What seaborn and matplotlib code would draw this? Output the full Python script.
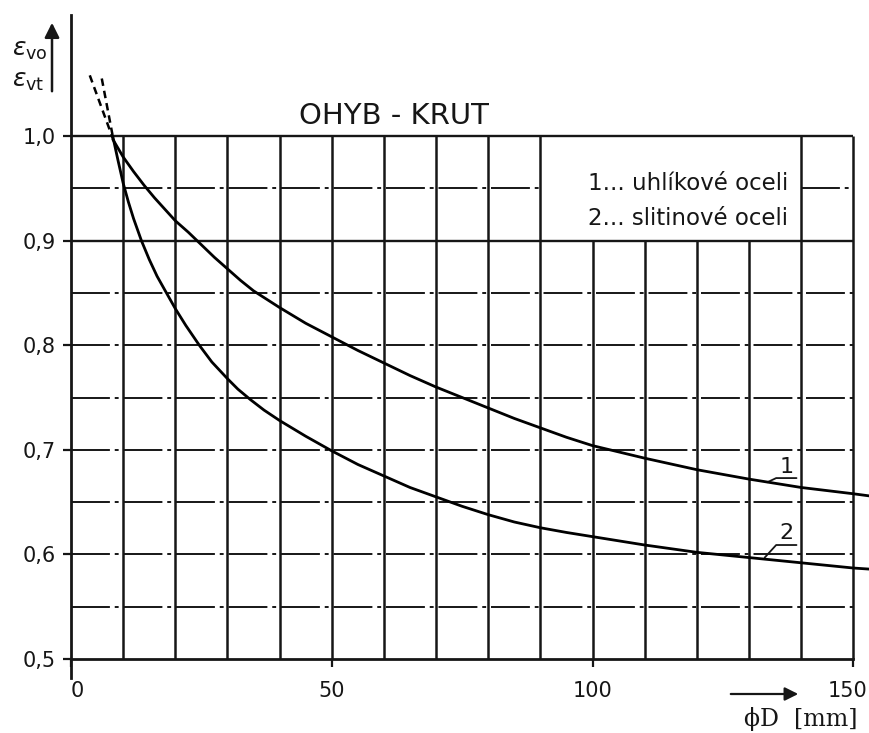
import numpy as np
import pandas as pd
import matplotlib
matplotlib.use("Agg")
import matplotlib.pyplot as plt
import matplotlib.transforms as mtransforms
import seaborn as sns

# ---------------- data ----------------
series_names = ["1", "2"]
legend_labels = ["1... uhlíkové oceli", "2... slitinové oceli"]

d_curve1 = [8, 10, 12, 14, 16, 18, 20, 22.5, 25, 27.5, 30, 32.5, 35, 37.5, 40, 45, 50, 55, 60, 65, 70,
            75, 80, 85, 90, 95, 100, 105, 110, 115, 120, 125, 130, 135, 140, 145, 150, 153]
e_curve1 = [0.997, 0.980, 0.966, 0.953, 0.941, 0.930, 0.919, 0.908, 0.896, 0.884, 0.873, 0.862, 0.852,
            0.844, 0.836, 0.821, 0.808, 0.795, 0.783, 0.771, 0.760, 0.750, 0.740, 0.730, 0.721, 0.712,
            0.704, 0.698, 0.692, 0.6865, 0.681, 0.6765, 0.672, 0.668, 0.664, 0.661, 0.658, 0.656]

d_curve2 = [8, 9, 10, 11, 12, 13.5, 15, 16.5, 18.3, 20, 22, 24.6, 27, 30, 32, 34.4, 37, 40, 45, 50, 55,
            60, 65, 70, 75, 80, 85, 90, 95, 100, 105, 110, 115, 120, 125, 130, 140, 150, 153]
e_curve2 = [1.000, 0.977, 0.955, 0.937, 0.921, 0.900, 0.882, 0.866, 0.850, 0.835, 0.819, 0.800, 0.784,
            0.768, 0.758, 0.748, 0.738, 0.728, 0.713, 0.699, 0.686, 0.675, 0.664, 0.655, 0.646, 0.638,
            0.631, 0.6255, 0.621, 0.617, 0.613, 0.609, 0.6055, 0.602, 0.5995, 0.597, 0.592, 0.587, 0.586]

# dashed extrapolation above 1.0
d_dash1 = [3.6, 8.0]
e_dash1 = [1.058, 0.998]
d_dash2 = [5.9, 8.0]
e_dash2 = [1.055, 1.000]

x_ticks = [0, 50, 100, 150]
x_tick_labels = ["0", "50", "100", "150"]
y_ticks = [0.5, 0.6, 0.7, 0.8, 0.9, 1.0]
y_tick_labels = ["0,5", "0,6", "0,7", "0,8", "0,9", "1,0"]

title_text = "OHYB - KRUT"
x_label_text = "ϕD  [mm]"

# ---------------- tables ----------------
df = pd.concat([
    pd.DataFrame({"D": d_curve1, "eps": e_curve1, "series": series_names[0]}),
    pd.DataFrame({"D": d_curve2, "eps": e_curve2, "series": series_names[1]}),
], ignore_index=True)
df_dash = pd.concat([
    pd.DataFrame({"D": d_dash1, "eps": e_dash1, "series": series_names[0]}),
    pd.DataFrame({"D": d_dash2, "eps": e_dash2, "series": series_names[1]}),
], ignore_index=True)

# ---------------- figure ----------------
sns.set_theme(style="ticks")
plt.rcParams["font.family"] = ["DejaVu Sans"]
plt.rcParams["mathtext.fontset"] = "dejavusans"

W, H = 869, 733
fig = plt.figure(figsize=(W / 100, H / 100), dpi=100)
fig.patch.set_facecolor("white")
ax = fig.add_axes([71 / W, 0.0581, 1 - 71 / W, 0.9347])
ax.set_facecolor("white")
ax.set_xlim(0, 153)
ax.set_ylim(0.47, 1.125)

ink = "#161616"

# grid (with a blank box for the legend text)
box_x0, box_x1, box_y0 = 90, 140, 0.9
grid_x = np.arange(10, 151, 10)
for gx in grid_x:
    top = box_y0 if box_x0 < gx < box_x1 else 1.0
    ax.vlines(gx, 0.5, top, color=ink, lw=1.8, zorder=1)

grid_y = np.round(np.arange(0.55, 1.001, 0.05), 2)
for gy in grid_y:
    if gy == 1.0 or gy == 0.9:
        ls = "-"
        lw = 1.7
    else:
        ls = (0, (20, 2.5, 2, 2.5))
        lw = 1.4
    if gy == 0.95:
        segs = [(0, box_x0), (box_x1, 150)]
    else:
        segs = [(0, 150)]
    for a, b in segs:
        ax.hlines(gy, a, b, color=ink, lw=lw, linestyles=[ls], zorder=1)

# curves
sns.lineplot(data=df, x="D", y="eps", hue="series", palette=["black", "black"],
             sort=False, estimator=None, legend=False, lw=2.0, ax=ax, zorder=3)
sns.lineplot(data=df_dash, x="D", y="eps", hue="series", palette=["black", "black"],
             sort=False, estimator=None, legend=False, lw=1.8, ax=ax, zorder=3)
for ln in ax.lines[-2:]:
    ln.set_linestyle((0, (3, 2)))

# spines / axes
ax.spines["top"].set_visible(False)
ax.spines["right"].set_visible(False)
ax.spines["left"].set_bounds(0.482, 1.116)
ax.spines["bottom"].set_position(("data", 0.5))
ax.spines["bottom"].set_bounds(0, 150)
for s in ("left", "bottom"):
    ax.spines[s].set_linewidth(2.0)
    ax.spines[s].set_color(ink)

ax.set_xticks(x_ticks)
ax.set_xticklabels(x_tick_labels)
ax.set_yticks(y_ticks)
ax.set_yticklabels(y_tick_labels)
ax.tick_params(axis="both", direction="out", length=6, width=1.6, color=ink,
               labelsize=15, labelcolor=ink)
ax.tick_params(axis="x", pad=10)
ax.tick_params(axis="y", pad=5)
xl = ax.get_xticklabels()
xl[0].set_horizontalalignment("left")
xl[-1].set_horizontalalignment("right")
xl[-1].set_transform(xl[-1].get_transform() +
                     mtransforms.ScaledTranslation(14 / 100, 0, fig.dpi_scale_trans))
ax.set_xlabel("")
ax.set_ylabel("")

# title and legend text
ax.text(62, 1.019, title_text, ha="center", va="center", fontsize=21, color=ink)
ax.text(137.5, 0.955, legend_labels[0], ha="right", va="center", fontsize=16.5, color=ink)
ax.text(137.5, 0.9216, legend_labels[1], ha="right", va="center", fontsize=16.5, color=ink)

# curve labels with leaders
ax.plot([133.5, 135.2, 139.1], [0.669, 0.673, 0.673], color=ink, lw=1.3)
ax.text(137.2, 0.6745, series_names[0], ha="center", va="bottom", fontsize=16, color=ink)
ax.plot([133.0, 135.2, 139.1], [0.597, 0.609, 0.609], color=ink, lw=1.3)
ax.text(137.2, 0.611, series_names[1], ha="center", va="bottom", fontsize=16, color=ink)

# y label (epsilon) with arrow
fig.text(12 / W, 1 - 50 / H, r"$\varepsilon_{\mathrm{vo}}$", ha="left", va="center", fontsize=18, color=ink)
fig.text(12 / W, 1 - 81 / H, r"$\varepsilon_{\mathrm{vt}}$", ha="left", va="center", fontsize=18, color=ink)
ax.annotate("", xy=(52, H - 20), xytext=(52, H - 94), xycoords="figure pixels",
            textcoords="figure pixels",
            arrowprops=dict(arrowstyle="-|>", lw=1.8, color=ink, mutation_scale=22))

# x label with arrow
ax.annotate("", xy=(801, H - 694), xytext=(728, H - 694), xycoords="figure pixels",
            textcoords="figure pixels",
            arrowprops=dict(arrowstyle="-|>", lw=1.6, color=ink, mutation_scale=20))
fig.text(801 / W, 14 / H, x_label_text, ha="center", va="center", fontsize=17,
         family="DejaVu Serif", color=ink)

fig.savefig("out.png", dpi=100, facecolor="white")
